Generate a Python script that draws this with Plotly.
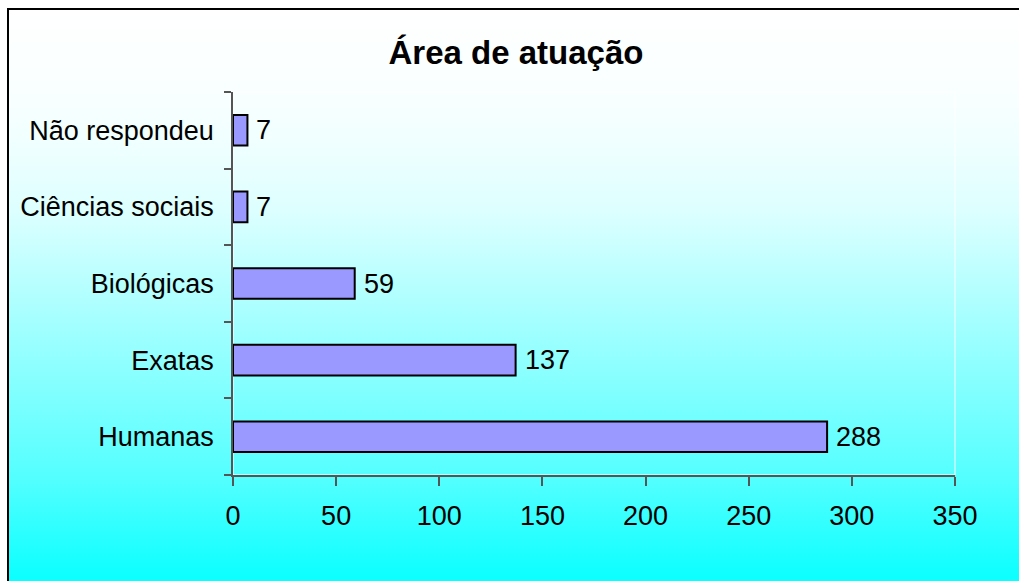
import base64
import struct
import zlib

import numpy as np
import plotly.graph_objects as go

# ---- data ----
categories = ["Humanas", "Exatas", "Biológicas", "Ciências sociais", "Não respondeu"]
values = [288, 137, 59, 7, 7]
x_ticks = [0, 50, 100, 150, 200, 250, 300, 350]
title_text = "Área de atuação"

# ---- geometry (pixels) ----
W, H = 1019, 581
PL, PR, PT, PB = 233, 955, 92, 475  # plot area
pw, ph = PR - PL, PB - PT


def px_to_paper_x(px):
    return (px - PL) / pw


def px_to_paper_y(py):
    return (PB - py) / ph


# ---- background gradient image (white -> cyan) ----
def gradient_png(top, bottom):
    stops_y = [9, 100, 150, 210, 310, 410, 480, 570, 581]
    stops_r = [255, 248, 238, 221, 170, 119, 82, 17, 12]
    ys = np.arange(top, bottom)
    reds = np.interp(ys, stops_y, stops_r).round().astype(int)
    raw = b"".join(b"\x00" + bytes([int(r), 255, 255]) for r in reds)

    def chunk(tag, data):
        c = struct.pack(">I", len(data)) + tag + data
        return c + struct.pack(">I", zlib.crc32(tag + data) & 0xFFFFFFFF)

    ihdr = struct.pack(">IIBBBBB", 1, len(ys), 8, 2, 0, 0, 0)
    png = b"\x89PNG\r\n\x1a\n" + chunk(b"IHDR", ihdr) + chunk(b"IDAT", zlib.compress(raw, 9)) + chunk(b"IEND", b"")
    return "data:image/png;base64," + base64.b64encode(png).decode()


bg_left, bg_top = 8, 9
img_src = gradient_png(bg_top, H)

FONT = "Liberation Sans, Arial, sans-serif"
AXIS_COLOR = "#555555"
FS = 27

fig = go.Figure(
    go.Bar(
        y=categories,
        x=values,
        orientation="h",
        marker=dict(color="#9999FF", line=dict(color="#000000", width=2)),
        width=0.4,
        hoverinfo="x+y",
    )
)

# value labels next to bar ends
for cat, val in zip(categories, values):
    fig.add_annotation(
        x=val,
        y=cat,
        xref="x",
        yref="y",
        text=str(val),
        showarrow=False,
        xanchor="left",
        yanchor="middle",
        xshift=7,
        font=dict(family=FONT, size=FS, color="#000000"),
    )

fig.update_layout(
    width=W,
    height=H,
    margin=dict(l=PL, r=W - PR, t=PT, b=H - PB, pad=0),
    paper_bgcolor="#FFFFFF",
    plot_bgcolor="rgba(0,0,0,0)",
    showlegend=False,
    font=dict(family=FONT, size=FS, color="#000000"),
    title=dict(
        text="<b>" + title_text + "</b>",
        x=516 / W,
        xref="container",
        xanchor="center",
        y=1 - 52 / H,
        yref="container",
        yanchor="middle",
        font=dict(family=FONT, size=33, color="#000000"),
    ),
    xaxis=dict(
        range=[0, 350],
        tickvals=x_ticks,
        ticktext=[str(t) for t in x_ticks],
        showgrid=False,
        zeroline=False,
        showline=True,
        linecolor=AXIS_COLOR,
        linewidth=1.5,
        ticks="outside",
        ticklen=9,
        tickwidth=1.5,
        tickcolor=AXIS_COLOR,
        tickfont=dict(family=FONT, size=FS, color="#000000"),
        ticklabelstandoff=7,
        fixedrange=True,
    ),
    yaxis=dict(
        categoryorder="array",
        categoryarray=categories,
        showgrid=False,
        zeroline=False,
        showline=True,
        linecolor=AXIS_COLOR,
        linewidth=1.5,
        ticks="outside",
        tickson="boundaries",
        ticklen=7,
        tickwidth=1.5,
        tickcolor=AXIS_COLOR,
        tickfont=dict(family=FONT, size=FS, color="#000000"),
        ticklabelstandoff=12,
        fixedrange=True,
    ),
    images=[
        dict(
            source=img_src,
            xref="paper",
            yref="paper",
            x=px_to_paper_x(bg_left),
            y=px_to_paper_y(bg_top),
            sizex=(W + 5 - bg_left) / pw,
            sizey=(H - bg_top) / ph,
            xanchor="left",
            yanchor="top",
            sizing="stretch",
            layer="below",
        )
    ],
    shapes=[
        dict(
            type="rect",
            xref="paper",
            yref="paper",
            x0=0,
            x1=1,
            y0=0,
            y1=1,
            line=dict(color="#FFFFFF", width=1),
            fillcolor="rgba(0,0,0,0)",
            layer="below",
        ),
        dict(
            type="rect",
            xref="paper",
            yref="paper",
            x0=px_to_paper_x(bg_left),
            x1=px_to_paper_x(W + 5),
            y0=px_to_paper_y(H + 5),
            y1=px_to_paper_y(bg_top),
            line=dict(color="#000000", width=2),
            fillcolor="rgba(0,0,0,0)",
            layer="above",
        ),
    ],
)

fig.write_html(
    "out.html",
    config={"displayModeBar": False},
    post_script="document.body.style.margin='0';document.body.style.overflow='hidden';",
)
